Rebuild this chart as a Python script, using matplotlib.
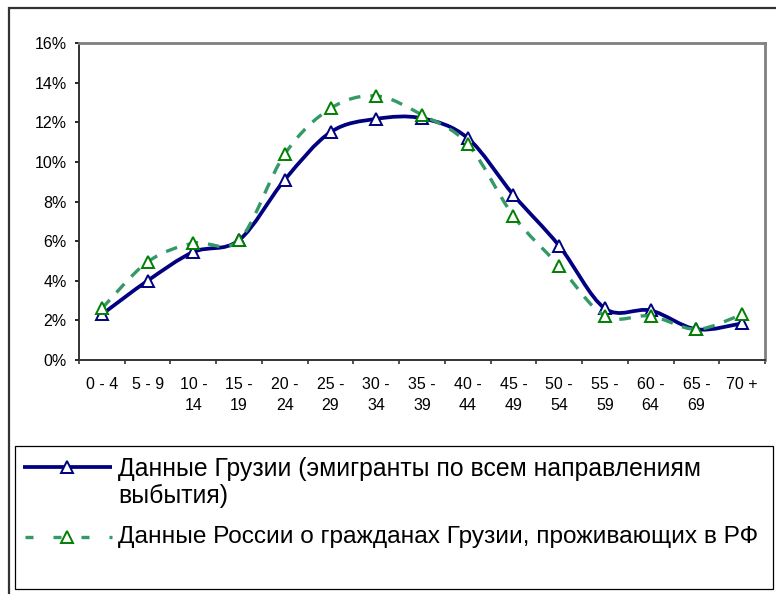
import numpy as np
import matplotlib.pyplot as plt
from matplotlib.path import Path
import matplotlib.patches as patches
from matplotlib.lines import Line2D

plt.rcParams['font.family'] = ['Liberation Sans', 'DejaVu Sans']

# age groups
ages = ['0 - 4', '5 - 9', '10 -\n14', '15 -\n19', '20 -\n24', '25 -\n29', '30 -\n34',
        '35 -\n39', '40 -\n44', '45 -\n49', '50 -\n54', '55 -\n59', '60 -\n64',
        '65 -\n69', '70 +']

# shares, %
georgia = [2.3, 4.0, 5.45, 6.05, 9.1, 11.5, 12.17, 12.2, 11.2, 8.33, 5.76, 2.6, 2.5, 1.55, 1.85]
russia = [2.6, 4.95, 5.9, 6.05, 10.4, 12.7, 13.33, 12.37, 10.9, 7.27, 4.75, 2.22, 2.22, 1.55, 2.3]

labels = ['Данные Грузии (эмигранты по всем направлениям\nвыбытия)',
          'Данные России о гражданах Грузии, проживающих в РФ']

W, H = 776, 594


def smooth_path(x, y):
    # excel-like smoothed line: bezier through the points
    p = np.column_stack([x, y]).astype(float)
    verts = [p[0]]
    codes = [Path.MOVETO]
    n = len(p)
    for i in range(n - 1):
        p0 = p[i - 1] if i > 0 else p[i]
        p3 = p[i + 2] if i + 2 < n else p[i + 1]
        c1 = p[i] + (p[i + 1] - p0) / 6.0
        c2 = p[i + 1] - (p3 - p[i]) / 6.0
        verts += [c1, c2, p[i + 1]]
        codes += [Path.CURVE4] * 3
    return Path(verts, codes)


def fx(px):
    return px / W


def fy(py):
    return 1 - py / H


fig = plt.figure(figsize=(W / 100, H / 100), dpi=100)
ax = fig.add_axes([fx(79), fy(360), (765 - 79) / W, (360 - 43) / H])

x = np.arange(len(ages))

# series 1 - Georgia
ax.add_patch(patches.PathPatch(smooth_path(x, georgia), facecolor='none',
                               edgecolor='#000080', lw=2.7, capstyle='round', zorder=3))
ax.plot(x, georgia, linestyle='none', marker='^', ms=9, mfc='white', mec='#000080',
        mew=1.4, zorder=4)

# series 2 - Russia
ax.add_patch(patches.PathPatch(smooth_path(x, russia), facecolor='none',
                               edgecolor='#339966', lw=2.4, linestyle=(0, (3.5, 3)), zorder=5))
ax.plot(x, russia, linestyle='none', marker='^', ms=9, mfc='white', mec='#008000',
        mew=1.4, zorder=6)

ax.set_xlim(-0.5, len(ages) - 0.5)
ax.set_ylim(0, 16)
ax.set_yticks(np.arange(0, 17, 2))
ax.set_yticklabels(['%d%%' % v for v in range(0, 17, 2)])
ax.set_xticks(x)
ax.set_xticklabels(ages, linespacing=1.55)
ax.set_xticks(np.arange(-0.5, len(ages), 1), minor=True)
ax.tick_params(axis='x', which='major', length=0, pad=12)
ax.tick_params(axis='x', which='minor', length=3, width=1.2, color='#333333')
ax.tick_params(axis='y', length=3, width=1.2, color='#333333', pad=6)
ax.tick_params(labelsize=11.5, colors='black')
for s in ['left', 'bottom']:
    ax.spines[s].set_color('#333333')
    ax.spines[s].set_linewidth(1.4)
for s in ['top', 'right']:
    ax.spines[s].set_color('#808080')
    ax.spines[s].set_linewidth(2)

# outer frame
fig.patches.append(patches.Rectangle((fx(8.5), -0.1), 1.2, fy(7.5) + 0.1,
                                     transform=fig.transFigure, fill=False,
                                     edgecolor='#333333', lw=1.6))
# legend box
fig.patches.append(patches.Rectangle((fx(15), fy(589)), (773 - 15) / W, (589 - 446) / H,
                                     transform=fig.transFigure, fill=False,
                                     edgecolor='black', lw=0.9))

# legend entries
ly = [467, 537]
fig.lines.append(Line2D([fx(23), fx(112)], [fy(ly[0])] * 2, transform=fig.transFigure,
                        color='#000080', lw=2.7, solid_capstyle='butt'))
fig.lines.append(Line2D([fx(67)], [fy(ly[0])], transform=fig.transFigure,
                        marker='^', ms=9, mfc='white', mec='#000080', mew=1.4))
fig.lines.append(Line2D([fx(25), fx(112)], [fy(ly[1])] * 2, transform=fig.transFigure,
                        color='#339966', lw=2.4, linestyle=(0, (2.4, 6))))
fig.lines.append(Line2D([fx(67)], [fy(ly[1])], transform=fig.transFigure,
                        marker='^', ms=9, mfc='white', mec='#008000', mew=1.4))

line1, line2 = labels[0].split('\n')
fig.text(fx(118), fy(476), line1, fontsize=17.8, va='baseline', ha='left')
fig.text(fx(118), fy(503), line2, fontsize=17.8, va='baseline', ha='left')
fig.text(fx(118), fy(543), labels[1], fontsize=17.6, va='baseline', ha='left')

fig.savefig('out.png', dpi=100)
